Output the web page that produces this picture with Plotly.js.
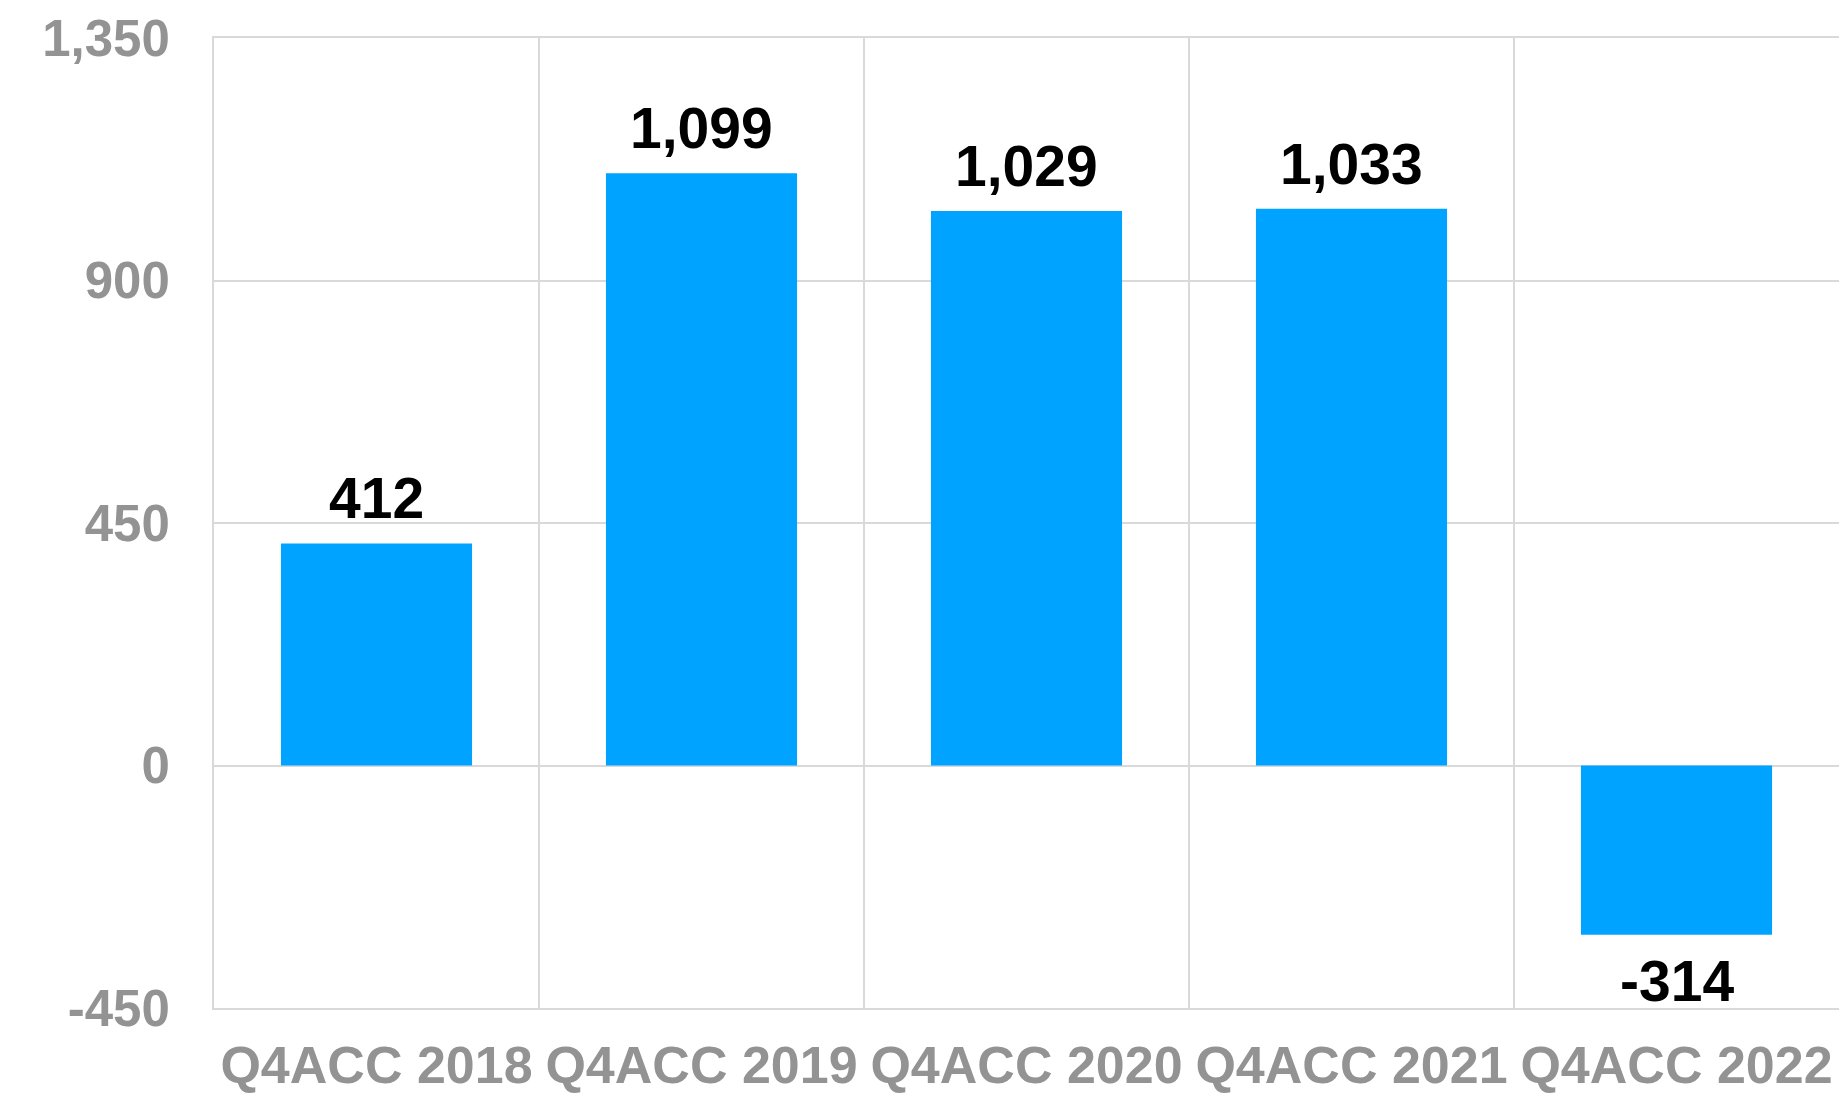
<!DOCTYPE html>
<html>
<head>
<meta charset="utf-8">
<script src="https://cdn.plot.ly/plotly-3.0.1.min.js"></script>
<style>
html,body{margin:0;padding:0;background:#fff;}
#chart{width:1839px;height:1096px;}
</style>
</head>
<body>
<div id="chart"></div>
<script>
const categories = ["Q4ACC 2018", "Q4ACC 2019", "Q4ACC 2020", "Q4ACC 2021", "Q4ACC 2022"];
const values = [412, 1099, 1029, 1033, -314];
const yTickVals = [-450, 0, 450, 900, 1350];
const yTickText = ["-450", "0", "450", "900", "1,350"];

const fontFam = "Liberation Sans, Arial, sans-serif";
const gridColor = "#d9d9d9";

const fmt = v => (v < 0 ? "-" : "") + Math.abs(v).toLocaleString("en-US");

const annotations = categories.map((c, i) => ({
  x: c, y: values[i], xref: "x", yref: "y",
  text: fmt(values[i]),
  showarrow: false,
  yanchor: values[i] >= 0 ? "bottom" : "top",
  yshift: values[i] >= 0 ? 11 : -12,
  font: {family: fontFam, size: 57, color: "#000000", weight: "bold"}
}));

const trace = {
  type: "bar",
  x: categories,
  y: values,
  marker: {color: "#00A3FF", line: {width: 0}},
  hoverinfo: "skip"
};

const layout = {
  width: 1839, height: 1096,
  margin: {l: 214, r: 0, t: 38, b: 88},
  paper_bgcolor: "#ffffff", plot_bgcolor: "#ffffff",
  showlegend: false,
  bargap: 0.412,
  font: {family: fontFam},
  xaxis: {
    type: "category",
    tickson: "boundaries",
    tickangle: 0,
    showgrid: true, gridcolor: gridColor, gridwidth: 2,
    ticks: "", zeroline: false,
    showline: true, mirror: true, linecolor: gridColor, linewidth: 2,
    tickfont: {family: fontFam, size: 52, color: "#939393", weight: "bold"},
    ticklabelstandoff: 11
  },
  yaxis: {
    range: [-450, 1350],
    tickmode: "array", tickvals: yTickVals, ticktext: yTickText,
    showgrid: true, gridcolor: gridColor, gridwidth: 2,
    zeroline: true, zerolinecolor: gridColor, zerolinewidth: 2,
    showline: true, linecolor: gridColor, linewidth: 2,
    ticks: "",
    tickfont: {family: fontFam, size: 51, color: "#939393", weight: "bold"},
    ticklabelstandoff: 32
  },
  annotations: annotations
};

Plotly.newPlot("chart", [trace], layout, {displayModeBar: false, staticPlot: true});
</script>
</body>
</html>
